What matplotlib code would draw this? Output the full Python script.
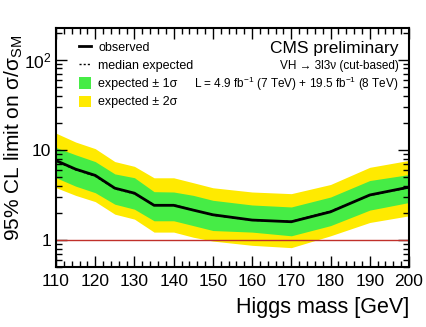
import matplotlib

matplotlib.use("Agg")
import matplotlib.pyplot as plt
from matplotlib.lines import Line2D
from matplotlib.patches import Patch
from matplotlib.ticker import FixedLocator, MultipleLocator, NullFormatter

plt.rcParams["font.family"] = ["Liberation Sans", "DejaVu Sans"]
plt.rcParams["mathtext.fontset"] = "custom"
plt.rcParams["mathtext.rm"] = "Liberation Sans"
plt.rcParams["mathtext.it"] = "Liberation Sans"

# Higgs mass points [GeV]
mass = [110, 115, 120, 125, 130, 135, 140, 145, 150, 160, 170, 180, 190, 200]
# limits on sigma/sigma_SM
observed = [7.6, 6.1, 5.2, 3.75, 3.3, 2.42, 2.42, 2.14, 1.9, 1.66, 1.59, 2.05, 3.15, 3.85]
expected = [7.5, 6.0, 5.1, 3.7, 3.25, 2.45, 2.45, 2.15, 1.88, 1.65, 1.6, 2.08, 3.12, 3.8]
sig1_lo = [4.9, 3.95, 3.34, 2.49, 2.19, 1.63, 1.63, 1.44, 1.27, 1.22, 1.11, 1.44, 2.14, 2.6]
sig1_hi = [10.6, 8.8, 7.4, 5.4, 4.9, 3.43, 3.4, 3.12, 2.75, 2.44, 2.32, 2.99, 4.56, 5.31]
sig2_lo = [3.8, 3.12, 2.66, 1.93, 1.7, 1.22, 1.22, 1.07, 0.97, 0.87, 0.82, 1.11, 1.56, 1.85]
sig2_hi = [15.3, 12.2, 10.3, 7.4, 6.55, 4.89, 4.89, 4.31, 3.79, 3.4, 3.26, 4.12, 6.39, 7.63]

GREEN = "#46ec46"
YELLOW = "#ffea00"

fig = plt.figure(figsize=(4.27, 3.27), dpi=100)
fig.patch.set_facecolor("white")
ax = fig.add_axes([56 / 427, 1 - 267 / 327, (409 - 56) / 427, (267 - 28) / 327])

ax.fill_between(mass, sig2_lo, sig2_hi, color=YELLOW, lw=0)
ax.fill_between(mass, sig1_lo, sig1_hi, color=GREEN, lw=0)
ax.plot(mass, expected, color="black", lw=1.0, ls=(0, (1.5, 1.5)))
ax.plot(mass, observed, color="black", lw=2.0)
ax.axhline(1.0, color="#c0302a", lw=1.0)

ax.set_yscale("log")
ax.set_xlim(110, 200)
ax.set_ylim(0.5, 225)

ax.xaxis.set_major_locator(MultipleLocator(10))
ax.xaxis.set_minor_locator(MultipleLocator(2))
ax.yaxis.set_major_locator(FixedLocator([1, 10, 100]))
ax.set_yticklabels(["1", "10", "10$^{2}$"])
ax.yaxis.set_minor_formatter(NullFormatter())
ax.tick_params(which="both", direction="in", top=True, right=True, labelsize=12.5, width=1.0)
ax.tick_params(which="major", length=8)
ax.tick_params(which="minor", length=4)
ax.tick_params(axis="x", pad=5)
for s in ax.spines.values():
    s.set_linewidth(1.5)

ax.set_xlabel("Higgs mass [GeV]", fontsize=15.5, loc="right", labelpad=6)
ax.set_ylabel("95% CL limit on σ/σ$_{\\rm SM}$", fontsize=15)
ax.yaxis.set_label_coords(-0.088, 0.54)

handles = [
    Line2D([], [], color="black", lw=2.0),
    Line2D([], [], color="black", lw=1.0, ls=(0, (1.5, 1.5))),
    Patch(facecolor=GREEN, edgecolor="none"),
    Patch(facecolor=YELLOW, edgecolor="none"),
]
labels = ["observed", "median expected", "expected ± 1σ", "expected ± 2σ"]
ax.legend(handles, labels, loc="upper left", bbox_to_anchor=(0.065, 0.945), frameon=False,
          fontsize=9, handlelength=1.0, handleheight=1.0, handletextpad=0.55,
          labelspacing=0.42, borderaxespad=0, borderpad=0)

ax.text(0.97, 0.915, "CMS preliminary", transform=ax.transAxes, ha="right", va="center", fontsize=12.5)
ax.text(0.97, 0.84, "VH → 3l3ν (cut-based)", transform=ax.transAxes, ha="right", va="center", fontsize=8.5)
ax.text(0.97, 0.765, "L = 4.9 fb$^{-1}$ (7 TeV) + 19.5 fb$^{-1}$ (8 TeV)", transform=ax.transAxes,
        ha="right", va="center", fontsize=8.5)

fig.savefig("out.png", dpi=100)
plt.close(fig)
